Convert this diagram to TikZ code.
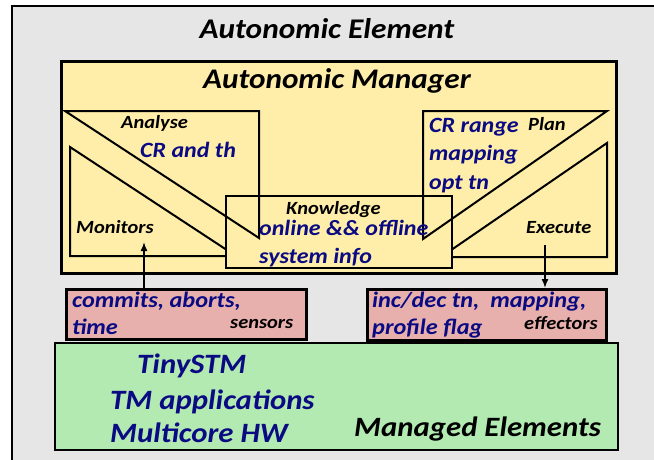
\documentclass[tikz,border=0pt]{standalone}
\usepackage{fontspec}
\setmainfont[FakeStretch=1.1]{Carlito}
\usetikzlibrary{arrows.meta}
\definecolor{bgfill}{RGB}{230,230,230}
\definecolor{amfill}{RGB}{255,238,170}
\definecolor{sefill}{RGB}{232,176,172}
\definecolor{mefill}{RGB}{178,234,178}
\definecolor{txtblue}{RGB}{10,10,130}
\newcommand{\fsz}[1]{\fontsize{#1}{#1}\selectfont\bfseries\itshape}

\begin{document}
\begin{tikzpicture}[x=1pt,y=-1pt,
  box/.style={draw,line width=2pt,inner sep=0pt,anchor=north west},
  lbl/.style={inner sep=0pt,anchor=base west,font=\fsz{18.6}},
  info/.style={lbl,text=txtblue,font=\fsz{21.8}},
  sig/.style={lbl,text=txtblue,font=\fsz{22.1}},
  elem/.style={lbl,text=txtblue,font=\fsz{28}},
  title/.style={inner sep=0pt,anchor=base,font=\fsz{28.5}},
  tri/.style={line width=2pt,line join=miter},
  flow/.style={line width=1.5pt,-{Latex[length=9pt,width=7pt]}}]
  \useasboundingbox (0,0) rectangle (654,459);

  \node[box,fill=bgfill,minimum width=660,minimum height=470] (element) at (11,5) {};
  \node[title] (eltitle) at (327,38) {Autonomic Element};

  \node[box,fill=amfill,line width=2.5pt,minimum width=555,minimum height=212] (manager) at (60,60) {};
  \node[title,font=\fsz{28.4}] (mgtitle) at (337,88) {Autonomic Manager};

  % monitor and execute go under the knowledge box
  \draw[tri] (70,147) -- (70,256) -- (236,256) -- cycle;
  \draw[tri] (607,143) -- (607,257) -- (441,257) -- cycle;

  \node[box,fill=amfill,minimum width=226,minimum height=72] (knowledge) at (225,195) {};

  % analyse and plan go over it
  \draw[tri] (65,111) -- (259,111) -- (259,238) -- cycle;
  \draw[tri] (423,111) -- (607,111) -- (423,239) -- cycle;

  \node[lbl] (analyse) at (121,128) {Analyse};
  \node[info] (crth) at (140,157) {CR and th};
  \node[lbl] (monitors) at (76,233) {Monitors};
  \node[info] (crrange) at (429,132) {CR range};
  \node[lbl] (plan) at (528,130) {Plan};
  \node[info] (mapping) at (429,160) {mapping};
  \node[info] (opttn) at (429,189) {opt tn};
  \node[lbl] (execute) at (526,233) {Execute};
  \node[lbl] (knowtitle) at (286,214) {Knowledge};
  \node[info] (online) at (259,235) {online \&\& offline};
  \node[info] (sysinfo) at (259,263) {system info};

  \node[box,fill=sefill,line width=2.5pt,minimum width=240,minimum height=50] (sensors) at (65,288) {};
  \node[sig] (commits) at (72,307) {commits, aborts,};
  \node[sig] (time) at (72,334) {time};
  \node[lbl] (senslbl) at (230,328) {sensors};

  \node[box,fill=sefill,line width=2.5pt,minimum width=239,minimum height=51] (effectors) at (366,288) {};
  \node[sig] (incdec) at (372,307) {inc/dec tn,\ \ mapping,};
  \node[sig] (profile) at (372,334) {profile flag};
  \node[lbl] (efflbl) at (524,329) {effectors};

  \coordinate (montip) at (144,242);
  \coordinate (exestart) at (545,245);
  \draw[flow] (sensors.north -| montip) -- (montip);
  \draw[flow] (exestart) -- (effectors.north -| exestart);

  \node[box,fill=mefill,minimum width=563,minimum height=107] (managed) at (54,342) {};
  \node[elem] (tinystm) at (137,373) {TinySTM};
  \node[elem] (tmapps) at (110,409) {TM applications};
  \node[elem] (multicore) at (110,442) {Multicore HW};
  \node[elem,text=black] (mgdlbl) at (354,436) {Managed Elements};
\end{tikzpicture}
\end{document}
